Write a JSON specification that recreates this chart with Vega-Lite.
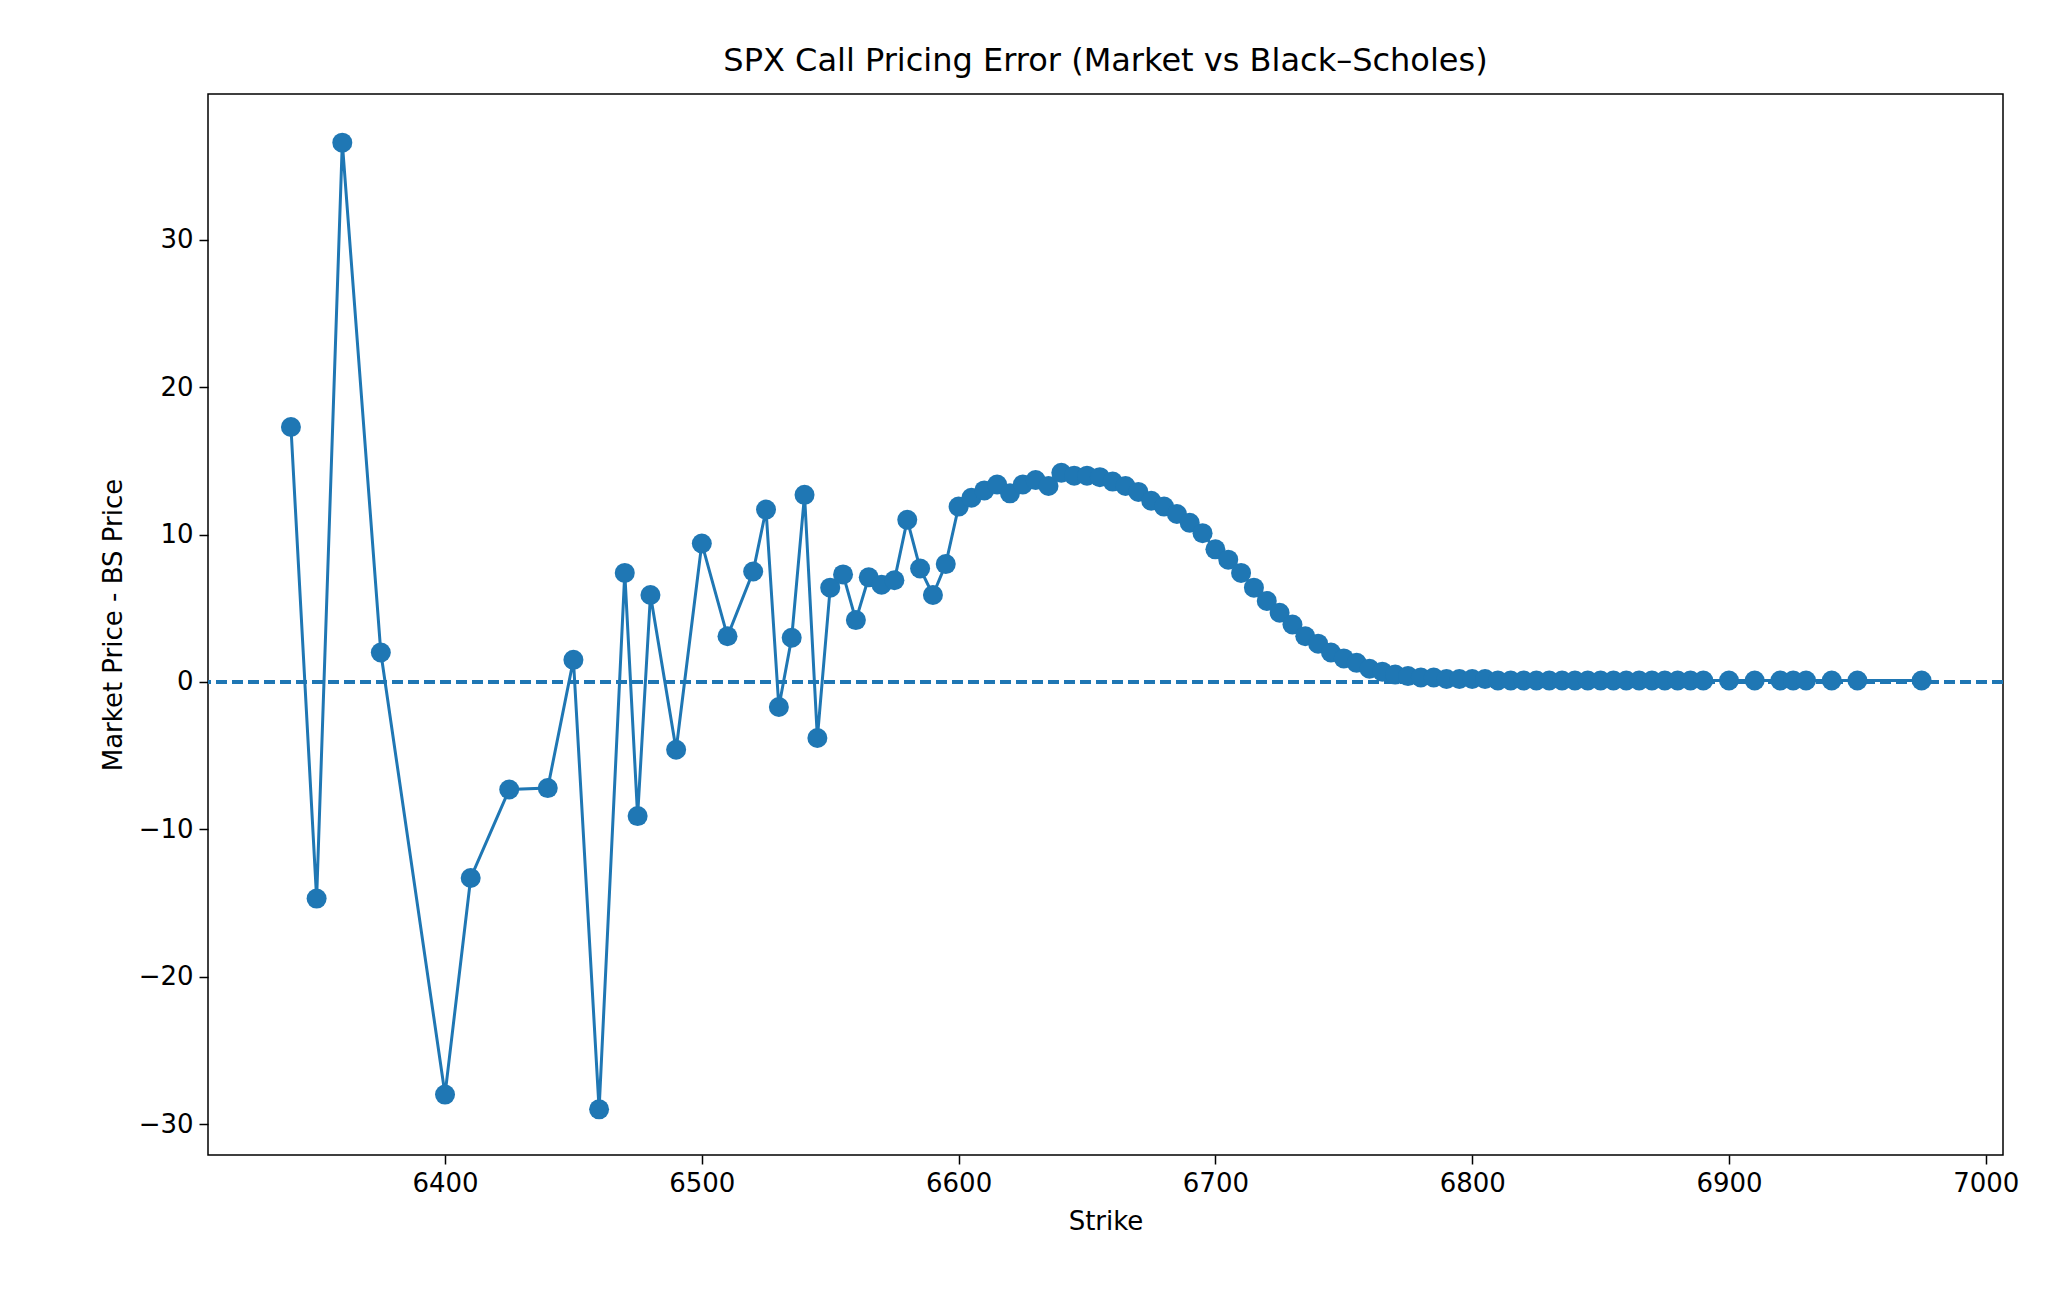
{
  "$schema": "https://vega.github.io/schema/vega-lite/v6.json",
  "autosize": {"type": "none"},
  "padding": {"left": 208, "top": 94, "right": 66, "bottom": 161},
  "width": 1795,
  "height": 1061,
  "background": "white",
  "title": {"text": "SPX Call Pricing Error (Market vs Black–Scholes)", "fontSize": 32, "fontWeight": "normal", "font": "DejaVu Sans", "offset": 16},
  "data": {"values": [
    {"strike": 6340, "err": 17.3}, {"strike": 6350, "err": -14.7}, {"strike": 6360, "err": 36.6},
    {"strike": 6375, "err": 2.0}, {"strike": 6400, "err": -28.0}, {"strike": 6410, "err": -13.3},
    {"strike": 6425, "err": -7.3}, {"strike": 6440, "err": -7.2}, {"strike": 6450, "err": 1.5},
    {"strike": 6460, "err": -29.0}, {"strike": 6470, "err": 7.4}, {"strike": 6475, "err": -9.1},
    {"strike": 6480, "err": 5.9}, {"strike": 6490, "err": -4.6}, {"strike": 6500, "err": 9.4},
    {"strike": 6510, "err": 3.1}, {"strike": 6520, "err": 7.5}, {"strike": 6525, "err": 11.7},
    {"strike": 6530, "err": -1.7}, {"strike": 6535, "err": 3.0}, {"strike": 6540, "err": 12.7},
    {"strike": 6545, "err": -3.8}, {"strike": 6550, "err": 6.4}, {"strike": 6555, "err": 7.3},
    {"strike": 6560, "err": 4.2}, {"strike": 6565, "err": 7.1}, {"strike": 6570, "err": 6.6},
    {"strike": 6575, "err": 6.9}, {"strike": 6580, "err": 11.0}, {"strike": 6585, "err": 7.7},
    {"strike": 6590, "err": 5.9}, {"strike": 6595, "err": 8.0}, {"strike": 6600, "err": 11.9},
    {"strike": 6605, "err": 12.5}, {"strike": 6610, "err": 13.0}, {"strike": 6615, "err": 13.4},
    {"strike": 6620, "err": 12.8}, {"strike": 6625, "err": 13.4}, {"strike": 6630, "err": 13.7},
    {"strike": 6635, "err": 13.3}, {"strike": 6640, "err": 14.2}, {"strike": 6645, "err": 14.0},
    {"strike": 6650, "err": 14.0}, {"strike": 6655, "err": 13.9}, {"strike": 6660, "err": 13.6},
    {"strike": 6665, "err": 13.3}, {"strike": 6670, "err": 12.9}, {"strike": 6675, "err": 12.3},
    {"strike": 6680, "err": 11.9}, {"strike": 6685, "err": 11.4}, {"strike": 6690, "err": 10.8},
    {"strike": 6695, "err": 10.1}, {"strike": 6700, "err": 9.0}, {"strike": 6705, "err": 8.3},
    {"strike": 6710, "err": 7.4}, {"strike": 6715, "err": 6.4}, {"strike": 6720, "err": 5.5},
    {"strike": 6725, "err": 4.7}, {"strike": 6730, "err": 3.9}, {"strike": 6735, "err": 3.1},
    {"strike": 6740, "err": 2.6}, {"strike": 6745, "err": 2.0}, {"strike": 6750, "err": 1.6},
    {"strike": 6755, "err": 1.3}, {"strike": 6760, "err": 0.9}, {"strike": 6765, "err": 0.7},
    {"strike": 6770, "err": 0.5}, {"strike": 6775, "err": 0.4}, {"strike": 6780, "err": 0.3},
    {"strike": 6785, "err": 0.3}, {"strike": 6790, "err": 0.2}, {"strike": 6795, "err": 0.2},
    {"strike": 6800, "err": 0.2}, {"strike": 6805, "err": 0.2}, {"strike": 6810, "err": 0.1},
    {"strike": 6815, "err": 0.1}, {"strike": 6820, "err": 0.1}, {"strike": 6825, "err": 0.1},
    {"strike": 6830, "err": 0.1}, {"strike": 6835, "err": 0.1}, {"strike": 6840, "err": 0.1},
    {"strike": 6845, "err": 0.1}, {"strike": 6850, "err": 0.1}, {"strike": 6855, "err": 0.1},
    {"strike": 6860, "err": 0.1}, {"strike": 6865, "err": 0.1}, {"strike": 6870, "err": 0.1},
    {"strike": 6875, "err": 0.1}, {"strike": 6880, "err": 0.1}, {"strike": 6885, "err": 0.1},
    {"strike": 6890, "err": 0.1}, {"strike": 6900, "err": 0.1}, {"strike": 6910, "err": 0.1},
    {"strike": 6920, "err": 0.1}, {"strike": 6925, "err": 0.1}, {"strike": 6930, "err": 0.1},
    {"strike": 6940, "err": 0.1}, {"strike": 6950, "err": 0.1}, {"strike": 6975, "err": 0.1}
  ]},
  "layer": [
    {
      "mark": {"type": "rule", "color": "#1f77b4", "strokeWidth": 3, "strokeDash": [11, 5]},
      "encoding": {"y": {"datum": 0, "type": "quantitative"}}
    },
    {
      "mark": {"type": "line", "color": "#1f77b4", "strokeWidth": 3, "point": {"filled": true, "size": 400, "color": "#1f77b4", "opacity": 1}},
      "encoding": {
        "x": {"field": "strike", "type": "quantitative", "title": "Strike",
              "scale": {"domain": [6307.7, 7006.7], "nice": false, "zero": false},
              "axis": {"values": [6400, 6500, 6600, 6700, 6800, 6900, 7000], "format": "d"}},
        "y": {"field": "err", "type": "quantitative", "title": "Market Price - BS Price",
              "scale": {"domain": [-32.1, 39.9], "nice": false},
              "axis": {"values": [-30, -20, -10, 0, 10, 20, 30], "format": "d", "labelExpr": "replace(datum.label, '-', '−')"}}
      }
    }
  ],
  "config": {
    "font": "DejaVu Sans",
    "view": {"stroke": "black", "strokeWidth": 1.5},
    "axis": {
      "grid": false, "domain": false, "tickColor": "black", "tickSize": 9, "tickWidth": 1.5,
      "labelFont": "DejaVu Sans", "labelFontSize": 26, "labelColor": "black", "labelPadding": 6,
      "titleFont": "DejaVu Sans", "titleFontSize": 26, "titleFontWeight": "normal", "titleColor": "black", "titlePadding": 12
    }
  }
}
